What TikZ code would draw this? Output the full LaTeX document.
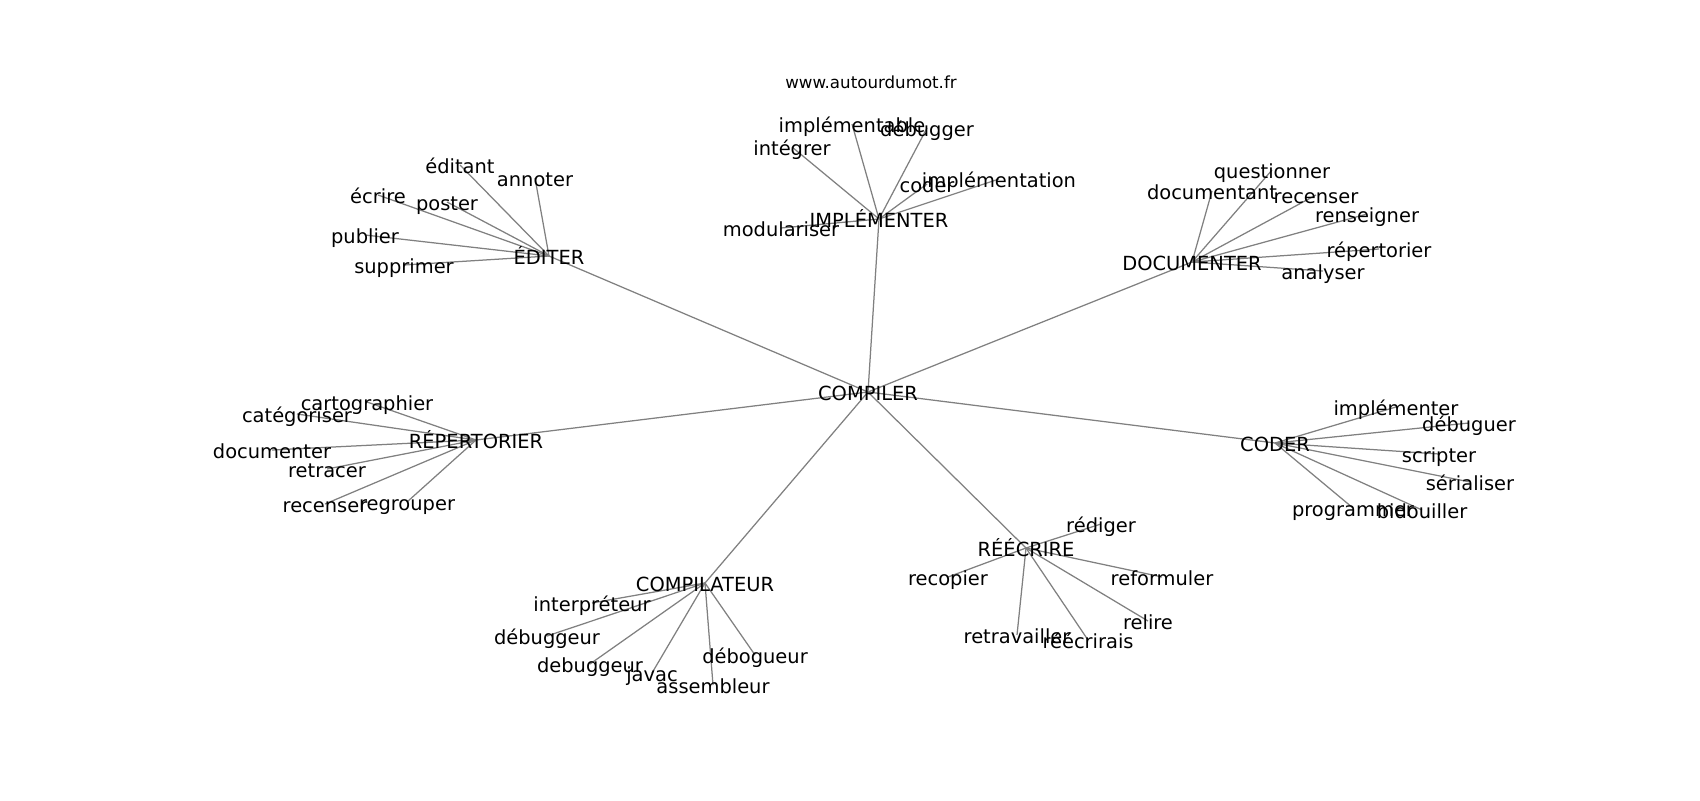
\documentclass[tikz,border=0pt]{standalone}
\usepackage{fontspec}
\setmainfont{DejaVu Sans}
\usetikzlibrary{backgrounds}
\tikzset{
  lbl/.style={font=\fontsize{14pt}{16pt}\selectfont, inner sep=0pt, text height=13pt, text depth=0.6pt, anchor=center, text=black},
  ttl/.style={font=\fontsize{12pt}{14pt}\selectfont, inner sep=0pt, anchor=center, text=black},
  edge/.style={draw=black!50, line width=0.9pt}
}
\begin{document}
\begin{tikzpicture}[x=0.72pt,y=-0.72pt]
\useasboundingbox (0,0) rectangle (1700,800);
\node[ttl] (title) at (871,82) {www.autourdumot.fr};
% hubs
\node[lbl] (comp) at (868,392) {COMPILER};
\node[lbl] (edit) at (549,256) {ÉDITER};
\node[lbl] (impl) at (879,219) {IMPLÉMENTER};
\node[lbl] (docu) at (1192,262) {DOCUMENTER};
\node[lbl] (rep) at (476,440) {RÉPERTORIER};
\node[lbl] (coder) at (1275,443) {CODER};
\node[lbl] (compil) at (705,583) {COMPILATEUR};
\node[lbl] (reec) at (1026,548) {RÉÉCRIRE};
% ÉDITER leaves
\node[lbl] (e1) at (460,165) {éditant};
\node[lbl] (e2) at (535,178) {annoter};
\node[lbl] (e3) at (378,195) {écrire};
\node[lbl] (e4) at (447,202) {poster};
\node[lbl] (e5) at (365,235) {publier};
\node[lbl] (e6) at (404,265) {supprimer};
% IMPLÉMENTER leaves
\node[lbl] (i1) at (852,124) {implémentable};
\node[lbl] (i2) at (927,128) {débugger};
\node[lbl] (i3) at (792,147) {intégrer};
\node[lbl] (i4) at (927,184) {coder};
\node[lbl] (i5) at (999,179) {implémentation};
\node[lbl] (i6) at (781,228) {modulariser};
% DOCUMENTER leaves
\node[lbl] (d1) at (1272,170) {questionner};
\node[lbl] (d2) at (1212,191) {documentant};
\node[lbl] (d3) at (1316,195) {recenser};
\node[lbl] (d4) at (1367,214) {renseigner};
\node[lbl] (d5) at (1379,249) {répertorier};
\node[lbl] (d6) at (1323,271) {analyser};
% RÉPERTORIER leaves
\node[lbl] (r1) at (367,402) {cartographier};
\node[lbl] (r2) at (297,414) {catégoriser};
\node[lbl] (r3) at (272,450) {documenter};
\node[lbl] (r4) at (327,469) {retracer};
\node[lbl] (r5) at (325,504) {recenser};
\node[lbl] (r6) at (407,502) {regrouper};
% CODER leaves
\node[lbl] (c1) at (1396,407) {implémenter};
\node[lbl] (c2) at (1469,423) {débuguer};
\node[lbl] (c3) at (1439,454) {scripter};
\node[lbl] (c4) at (1470,482) {sérialiser};
\node[lbl] (c5) at (1353,508) {programmer};
\node[lbl] (c6) at (1422,510) {bidouiller};
% COMPILATEUR leaves
\node[lbl] (p1) at (592,603) {interpréteur};
\node[lbl] (p2) at (547,636) {débuggeur};
\node[lbl] (p3) at (590,664) {debuggeur};
\node[lbl] (p4) at (652,673) {javac};
\node[lbl] (p5) at (755,655) {débogueur};
\node[lbl] (p6) at (713,685) {assembleur};
% RÉÉCRIRE leaves
\node[lbl] (w1) at (1101,524) {rédiger};
\node[lbl] (w2) at (948,577) {recopier};
\node[lbl] (w3) at (1162,577) {reformuler};
\node[lbl] (w4) at (1148,621) {relire};
\node[lbl] (w5) at (1017,635) {retravailler};
\node[lbl] (w6) at (1088,640) {réécrirais};
\begin{pgfonlayer}{background}
\foreach \h in {edit,impl,docu,rep,coder,compil,reec}
  \draw[edge] (comp.center) -- (\h.center);
\foreach \l in {e1,e2,e3,e4,e5,e6}
  \draw[edge] (edit.center) -- (\l.center);
\foreach \l in {i1,i2,i3,i4,i5,i6}
  \draw[edge] (impl.center) -- (\l.center);
\foreach \l in {d1,d2,d3,d4,d5,d6}
  \draw[edge] (docu.center) -- (\l.center);
\foreach \l in {r1,r2,r3,r4,r5,r6}
  \draw[edge] (rep.center) -- (\l.center);
\foreach \l in {c1,c2,c3,c4,c5,c6}
  \draw[edge] (coder.center) -- (\l.center);
\foreach \l in {p1,p2,p3,p4,p5,p6}
  \draw[edge] (compil.center) -- (\l.center);
\foreach \l in {w1,w2,w3,w4,w5,w6}
  \draw[edge] (reec.center) -- (\l.center);
\end{pgfonlayer}
\end{tikzpicture}
\end{document}
